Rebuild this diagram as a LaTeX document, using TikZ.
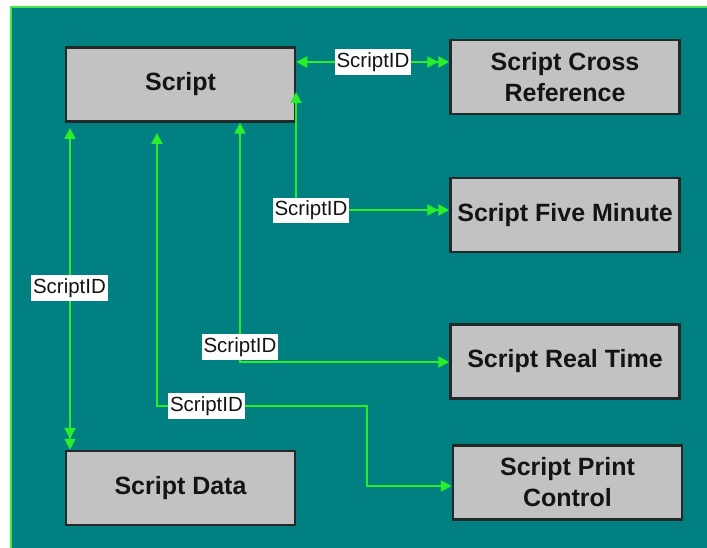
\documentclass[tikz,border=0pt]{standalone}
\usepackage{fontspec}
\setmainfont{Liberation Sans}
\usetikzlibrary{arrows.meta}
\definecolor{bgteal}{RGB}{0,128,128}
\definecolor{conngreen}{RGB}{40,240,40}
\definecolor{framegreen}{RGB}{70,230,70}
\definecolor{boxgray}{RGB}{194,194,194}
\definecolor{boxline}{RGB}{35,40,40}
\definecolor{txt}{RGB}{20,20,20}
\tikzset{
  box/.style={draw=boxline, line width=2.5pt, fill=boxgray, minimum width=229pt,
    minimum height=74pt, inner sep=0pt, align=center, text=txt,
    font=\fontsize{25}{31}\selectfont\bfseries},
  lab/.style={fill=white, inner xsep=2pt, inner ysep=3pt, text=txt, font=\fontsize{20.5}{24}\selectfont},
  conn/.style={draw=conngreen, line width=2pt},
  onetwo/.style={{Triangle[length=11pt,width=11pt]}-{Triangle[length=11pt,width=11pt] Triangle[length=11pt,width=11pt]}},
  oneone/.style={{Triangle[length=11pt,width=11pt]}-{Triangle[length=11pt,width=11pt]}},
}
\begin{document}
\begin{tikzpicture}[x=1pt,y=-1pt]
\useasboundingbox (0,0) rectangle (707,548);
\fill[white] (0,0) rectangle (707,548);
\draw[framegreen, line width=2pt, fill=bgteal] (11,7) rectangle (720,560);

\node[box] (S) at (180.5,84.5) {Script};
\node[box] (CR) at (565,77) {Script Cross\\Reference};
\node[box] (FM) at (565,215) {Script Five Minute};
\node[box] (RT) at (565,361.5) {Script Real Time};
\node[box] (PC) at (567.5,482.5) {Script Print\\Control};
\node[box] (D) at (180.5,488) {Script Data};

% corner / end coordinates
\coordinate (c1) at (296,62);
\coordinate (c2a) at (296,92);
\coordinate (c2b) at (296,210);
\coordinate (c3) at (240,362);
\coordinate (c4a) at (157,133);
\coordinate (c4b) at (157,406);
\coordinate (c4c) at (367,406);
\coordinate (c4d) at (367,486);
\coordinate (c5) at (70,128);

\draw[conn, onetwo] (S.east |- c1) -- (CR.west |- c1);
\draw[conn, onetwo] (c2a) -- (c2b) -- (FM.west |- c2b);
\draw[conn, oneone] (S.south -| c3) -- (c3) -- (RT.west |- c3);
\draw[conn, oneone] (c4a) -- (c4b) -- (c4c) -- (c4d) -- (PC.west |- c4d);
\draw[conn, onetwo] (c5) -- (D.north -| c5);

\node[lab] (l1) at (373,62) {ScriptID};
\node[lab] (l2) at (311,210.5) {ScriptID};
\node[lab] (l3) at (240,347) {ScriptID};
\node[lab] (l4) at (206.5,406) {ScriptID};
\node[lab] (l5) at (69.5,288) {ScriptID};
\end{tikzpicture}
\end{document}
